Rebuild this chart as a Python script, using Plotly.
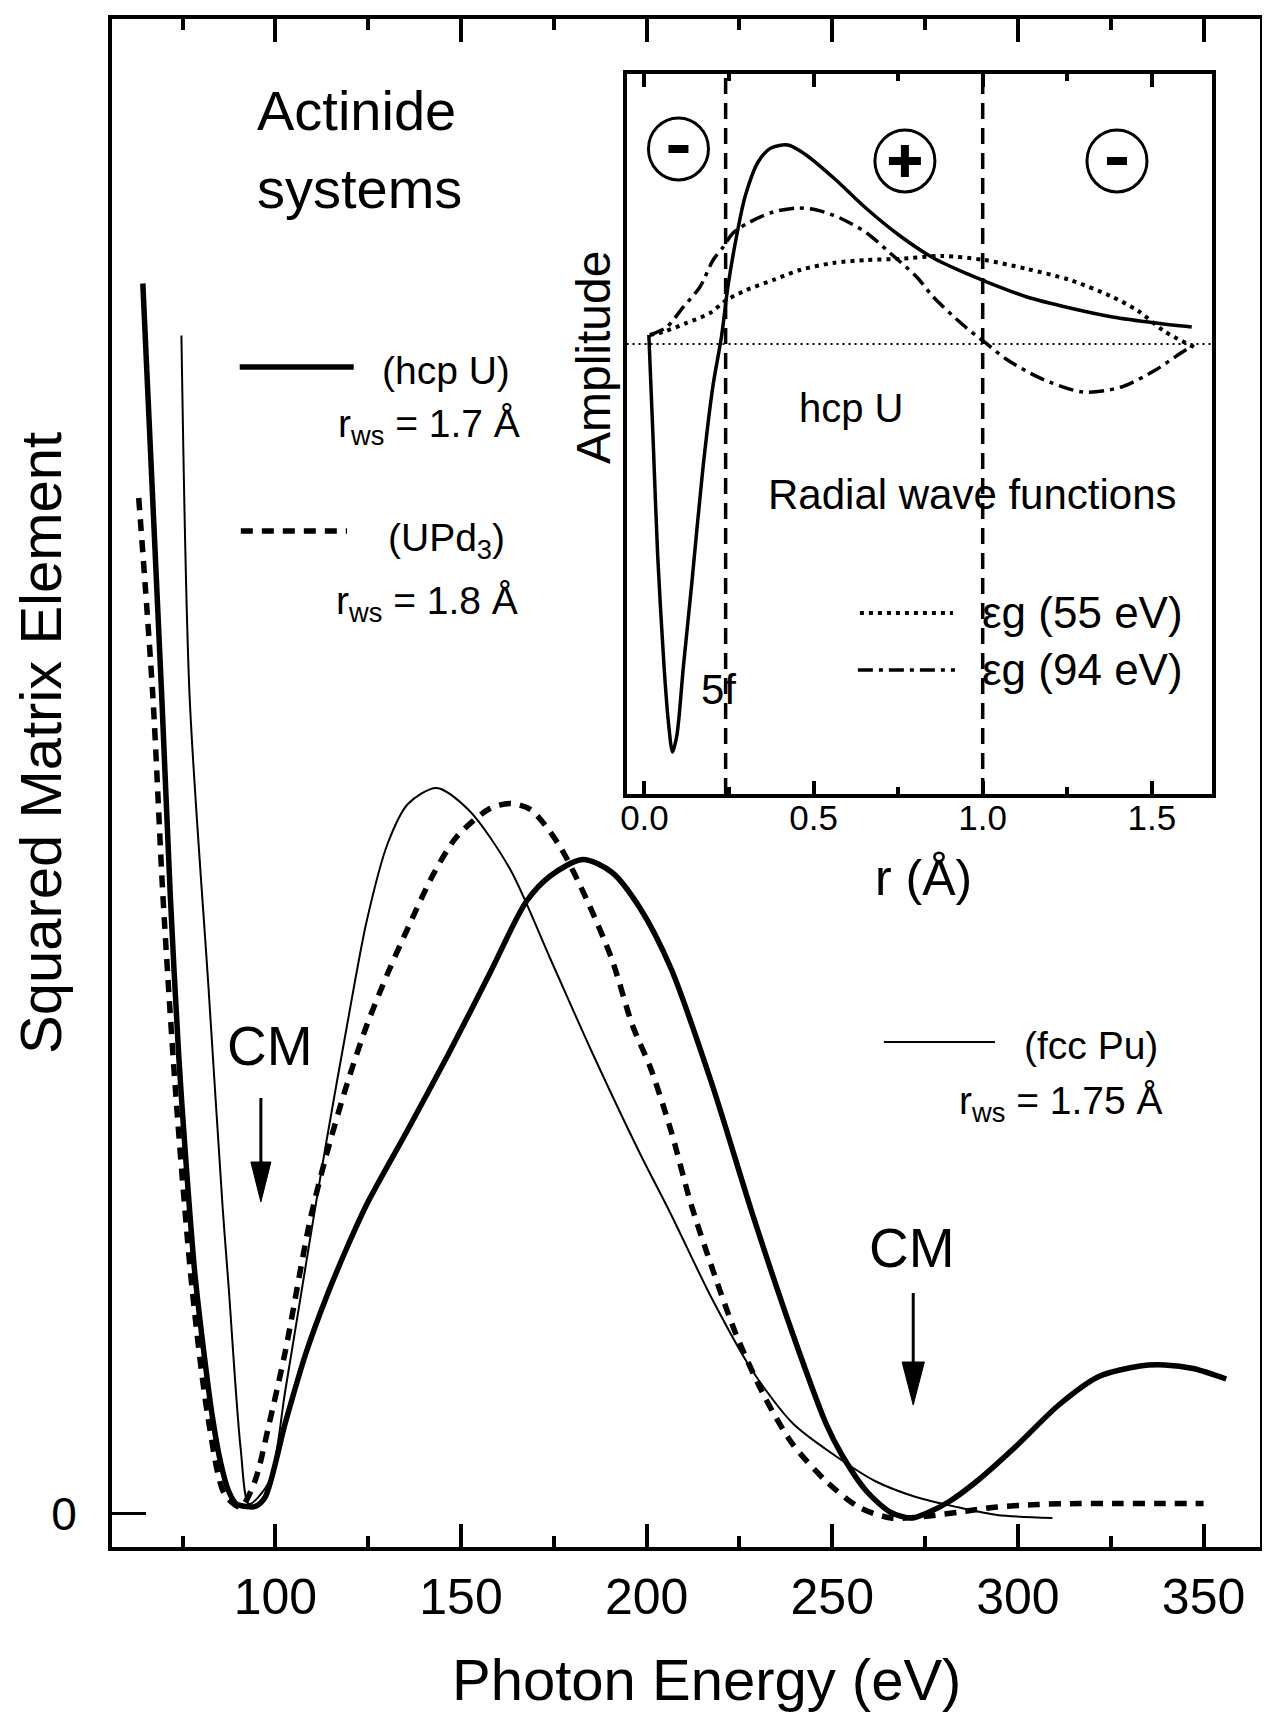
import plotly.graph_objects as go

# ---------------- main panel data (photon energy in eV, arbitrary units) -------------
hcpU_x = [64.3, 69.4, 71.7, 74.0, 75.8, 78.3, 80.7, 83.0, 85.2, 87.4, 89.5, 92.3, 94.5,
          97.2, 102.7, 108.2, 113.7, 119.3, 124.6, 135.7, 146.7, 157.8, 167.6, 174.2,
          182.8, 190.7, 198.2, 206.5, 217.5, 228.5, 239.4, 248.3, 252.6, 259.3, 265.8,
          271.4, 275.8, 281.3, 289.0, 300.0, 311.0, 321.8, 332.9, 339.5, 347.2, 356.1]
hcpU_y = [123.0, 81.7, 61.8, 45.6, 35.8, 24.05, 16.25, 9.75, 5.2, 2.25, 0.95, 0.7, 0.7,
          1.6, 9.1, 16.0, 21.6, 26.6, 30.9, 38.4, 46.0, 54.05, 61.2, 63.8,
          65.4, 64.1, 60.55, 54.55, 43.05, 29.95, 17.9, 9.0, 5.85, 2.2, 0.1,
          -0.45, 0.1, 1.15, 3.25, 6.9, 10.85, 13.7, 14.75, 14.85, 14.5, 13.45]

fccPu_x = [74.7, 76.9, 82.0, 85.8, 87.4, 90.65, 92.9, 98.4, 102.7, 109.3, 113.7,
           119.3, 124.6, 130.3, 135.7, 143.4, 152.2, 163.2, 174.2, 185.2, 198.2, 206.5,
           217.5, 228.5, 239.4, 250.5, 261.5, 272.5, 283.5, 294.4, 309.3]
fccPu_y = [117.8, 81.75, 52.55, 30.6, 22.75, 6.5, 0.95, 3.25, 12.35, 27.35, 37.1,
           48.8, 59.25, 67.05, 70.95, 72.55, 70.3, 64.45, 55.35, 46.2, 36.0, 29.95,
           21.55, 14.25, 9.0, 5.85, 3.25, 1.65, 0.65, -0.15, -0.45]

UPd3_x = [63.2, 67.0, 69.7, 73.1, 77.5, 81.8, 86.3, 90.65, 94.5, 98.4, 102.7, 109.3,
          113.7, 119.3, 124.6, 130.3, 135.7, 142.3, 148.9, 157.8, 163.2, 168.7, 176.4,
          184.1, 190.7, 196.2, 201.0, 206.5, 211.9, 217.5, 224.1, 231.8, 239.4, 248.3,
          257.1, 265.8, 274.7, 283.5, 294.4, 305.4, 316.5, 327.5, 338.4, 350.0]
UPd3_y = [101.55, 81.75, 61.85, 42.3, 22.75, 9.75, 1.95, 0.65, 3.25, 9.1, 16.25, 29.25,
          35.8, 42.95, 48.8, 54.05, 58.55, 63.75, 67.7, 70.5, 71.0, 70.4, 66.85,
          61.2, 55.35, 48.8, 44.6, 38.35, 31.0, 24.7, 17.9, 11.65, 6.9, 3.25,
          0.65, -0.45, -0.3, 0.1, 0.65, 0.9, 1.0, 1.0, 1.0, 1.0]

x_ticks = [100, 150, 200, 250, 300, 350]

# ---------------- inset data (r in Angstrom, amplitude arbitrary) --------------------
f5_r = [0.013, 0.026, 0.039, 0.058, 0.071, 0.083, 0.096, 0.115, 0.140, 0.172, 0.202,
        0.228, 0.247, 0.273, 0.298, 0.336, 0.374, 0.424, 0.474, 0.563, 0.651, 0.752,
        0.854, 0.955, 1.005, 1.131, 1.258, 1.384, 1.511, 1.618]
f5_a = [0.09, -0.99, -2.11, -3.23, -3.79, -4.08, -3.91, -3.23, -2.39, -1.27, -0.43,
        0.08, 0.58, 1.09, 1.48, 1.82, 1.96, 1.99, 1.90, 1.65, 1.37, 1.09,
        0.86, 0.70, 0.63, 0.47, 0.36, 0.27, 0.21, 0.17]

eg55_r = [0.016, 0.055, 0.125, 0.194, 0.243, 0.302, 0.381, 0.460, 0.558, 0.657, 0.752,
          0.879, 1.005, 1.131, 1.258, 1.384, 1.460, 1.536, 1.624]
eg55_a = [0.09, 0.12, 0.21, 0.31, 0.44, 0.54, 0.64, 0.74, 0.81, 0.84, 0.85,
          0.88, 0.84, 0.75, 0.64, 0.47, 0.33, 0.13, -0.03]

eg94_r = [0.016, 0.066, 0.115, 0.164, 0.203, 0.233, 0.262, 0.312, 0.381, 0.450, 0.509,
          0.578, 0.657, 0.726, 0.805, 0.854, 0.942, 1.005, 1.069, 1.169, 1.296, 1.410,
          1.511, 1.586, 1.624]
eg94_a = [0.09, 0.17, 0.37, 0.57, 0.84, 0.97, 1.11, 1.22, 1.32, 1.36, 1.34,
          1.26, 1.11, 0.91, 0.67, 0.47, 0.19, 0.02, -0.15, -0.34, -0.48, -0.43,
          -0.26, -0.09, -0.01]

inset_ticks = [0.0, 0.5, 1.0, 1.5]
r_5f = 0.24
r_ws_line = 1.0

FONT = "Liberation Sans, Arial, sans-serif"
K = "black"

fig = go.Figure()

# main curves
fig.add_trace(go.Scatter(x=hcpU_x, y=hcpU_y, mode="lines", name="hcp U",
                         line=dict(color=K, width=5.5, shape="spline", smoothing=0.8)))
fig.add_trace(go.Scatter(x=fccPu_x, y=fccPu_y, mode="lines", name="fcc Pu",
                         line=dict(color=K, width=2, shape="spline", smoothing=0.8)))
fig.add_trace(go.Scatter(x=UPd3_x, y=UPd3_y, mode="lines", name="UPd3",
                         line=dict(color=K, width=5.5, dash="12px,9px",
                                   shape="spline", smoothing=0.8)))

# inset curves
fig.add_trace(go.Scatter(x=f5_r, y=f5_a, mode="lines", xaxis="x2", yaxis="y2",
                         line=dict(color=K, width=3.5, shape="spline", smoothing=0.8)))
fig.add_trace(go.Scatter(x=eg55_r, y=eg55_a, mode="lines", xaxis="x2", yaxis="y2",
                         line=dict(color=K, width=4, dash="4px,5px",
                                   shape="spline", smoothing=0.8)))
fig.add_trace(go.Scatter(x=eg94_r, y=eg94_a, mode="lines", xaxis="x2", yaxis="y2",
                         line=dict(color=K, width=3.5, dash="15px,6px,4px,6px",
                                   shape="spline", smoothing=0.8)))

shapes = []
# inset reference lines
shapes.append(dict(type="line", xref="x2 domain", yref="y2", x0=0, x1=1, y0=0, y1=0,
                   line=dict(color=K, width=2, dash="2px,4px")))
for rv in (r_5f, r_ws_line):
    shapes.append(dict(type="line", xref="x2", yref="y2 domain", x0=rv, x1=rv, y0=0, y1=1,
                       line=dict(color=K, width=3.5, dash="16px,9px")))

# main legend samples
shapes.append(dict(type="line", xref="x", yref="y", x0=90.4, x1=121.1, y0=114.65, y1=114.65,
                   line=dict(color=K, width=5.5)))
shapes.append(dict(type="line", xref="x", yref="y", x0=90.7, x1=119.3, y0=98.25, y1=98.25,
                   line=dict(color=K, width=5.5, dash="12px,9px")))
shapes.append(dict(type="line", xref="x", yref="y", x0=263.9, x1=293.8, y0=47.15, y1=47.15,
                   line=dict(color=K, width=2)))
# inset legend samples
shapes.append(dict(type="line", xref="x2", yref="y2", x0=0.637, x1=0.912, y0=-2.69, y1=-2.69,
                   line=dict(color=K, width=4, dash="4px,5px")))
shapes.append(dict(type="line", xref="x2", yref="y2", x0=0.631, x1=0.918, y0=-3.26, y1=-3.26,
                   line=dict(color=K, width=3.5, dash="15px,6px,4px,6px")))

# circled signs in the inset
for (cr, ca, sign) in [(0.1005, 1.95, "-"), (0.770, 1.83, "+"), (1.397, 1.83, "-")]:
    shapes.append(dict(type="circle", xref="x2", yref="y2", xsizemode="pixel",
                       ysizemode="pixel", xanchor=cr, yanchor=ca, x0=-30, x1=30,
                       y0=-31, y1=31, line=dict(color=K, width=3)))
    half = 10 if sign == "-" else 16
    shapes.append(dict(type="line", xref="x2", yref="y2", xsizemode="pixel",
                       ysizemode="pixel", xanchor=cr, yanchor=ca, x0=-half, x1=half,
                       y0=0, y1=0, line=dict(color=K, width=8)))
    if sign == "+":
        shapes.append(dict(type="line", xref="x2", yref="y2", xsizemode="pixel",
                           ysizemode="pixel", xanchor=cr, yanchor=ca, x0=0, x1=0,
                           y0=-16, y1=16, line=dict(color=K, width=8)))

# CM arrows (data coordinates of the main panel)
for (ax_, y_top, y_head, y_tip, hw) in [(96.1, 41.55, 35.15, 31.15, 2.7),
                                        (271.8, 22.05, 15.15, 10.85, 3.0)]:
    shapes.append(dict(type="line", xref="x", yref="y", x0=ax_, x1=ax_, y0=y_top, y1=y_head,
                       line=dict(color=K, width=3)))
    shapes.append(dict(type="path", xref="x", yref="y",
                       path=f"M {ax_-hw},{y_head} L {ax_+hw},{y_head} L {ax_},{y_tip} Z",
                       fillcolor=K, line=dict(color=K, width=1)))

ann = []
def txt(x, y, s, size, xref="x", yref="y", xanchor="center", yanchor="middle",
        family=FONT, angle=0):
    ann.append(dict(x=x, y=y, xref=xref, yref=yref, text=s, showarrow=False,
                    xanchor=xanchor, yanchor=yanchor, textangle=angle,
                    font=dict(family=family, size=size, color=K)))

txt(94.5, 140.35, "Actinide", 56, xanchor="left")
txt(94.5, 132.55, "systems", 56, xanchor="left")
txt(128.2, 114.35, "(hcp U)", 39, xanchor="left")
txt(166.4, 108.75, "r<sub>ws</sub> = 1.7 Å", 39, xanchor="right")
txt(129.8, 97.35, "(UPd<sub>3</sub>)", 39, xanchor="left")
txt(165.8, 91.05, "r<sub>ws</sub> = 1.8 Å", 39, xanchor="right")
txt(301.1, 46.85, "(fcc Pu)", 39, xanchor="left")
txt(339.6, 41.05, "r<sub>ws</sub> = 1.75 Å", 39, xanchor="right")
txt(98.5, 46.75, "CM", 55)
txt(271.5, 26.55, "CM", 55)

# inset texts
txt(0.613, -0.64, "hcp U", 40, xref="x2", yref="y2")
txt(0.970, -1.51, "Radial wave functions", 42, xref="x2", yref="y2")
txt(0.992, -2.69, "εg (55 eV)", 44, xref="x2", yref="y2", xanchor="left")
txt(0.992, -3.26, "εg (94 eV)", 44, xref="x2", yref="y2", xanchor="left")
txt(0.220, -3.46, "5f", 42, xref="x2", yref="y2")

# axis titles (paper coordinates; plot area spans 112..1260 x 19..1547 px of the page)
txt((706 - 112) / 1148, (1547 - 1679) / 1528, "Photon Energy (eV)", 58,
    xref="paper", yref="paper")
txt((40 - 112) / 1148, (1547 - 743) / 1528, "Squared Matrix Element", 58,
    xref="paper", yref="paper", angle=-90)
txt((594 - 112) / 1148, (1547 - 358) / 1528, "Amplitude", 48,
    xref="paper", yref="paper", angle=-90)
txt((923 - 112) / 1148, (1547 - 878) / 1528, "r (Å)", 50, xref="paper", yref="paper")

# the page body has an 8 px margin, so the figure is 16 px smaller than the window
fig.update_layout(
    width=1254, height=1705, autosize=False,
    margin=dict(l=104, r=2, t=11, b=166),
    paper_bgcolor="white", plot_bgcolor="white",
    showlegend=False,
    font=dict(family=FONT, color=K),
    shapes=shapes, annotations=ann,
    xaxis=dict(range=[56, 365.2], domain=[0, 1], anchor="y", showline=True, linewidth=4,
               linecolor=K, mirror="ticks", ticks="inside", ticklen=23, tickwidth=4,
               tickcolor=K, tickvals=x_ticks, ticktext=[str(v) for v in x_ticks],
               tickfont=dict(size=50, family=FONT, color=K), showgrid=False,
               zeroline=False, ticklabelstandoff=3, automargin=False,
               minor=dict(ticks="inside", ticklen=11, tickwidth=4, tickcolor=K,
                          dtick=25, tick0=0, showgrid=False)),
    yaxis=dict(range=[-3.35, 149.45], domain=[0, 1], anchor="x", showline=True,
               linewidth=4, linecolor=K, mirror=True, ticks="inside", tickvals=[0],
               ticktext=["0"], ticklen=34, tickwidth=3, tickcolor=K,
               tickfont=dict(size=46, family=FONT, color=K), showgrid=False,
               zeroline=False, ticklabelstandoff=22, automargin=False),
    xaxis2=dict(range=[-0.053, 1.678], domain=[0.4482, 0.9582], anchor="y2",
                showline=True, linewidth=3.5, linecolor=K, mirror="ticks",
                ticks="inside", ticklen=13, tickwidth=3.5, tickcolor=K,
                tickvals=inset_ticks, ticktext=[f"{v:.1f}" for v in inset_ticks],
                tickfont=dict(size=35, family=FONT, color=K), showgrid=False,
                zeroline=False, ticklabelstandoff=-10, automargin=False,
                minor=dict(ticks="inside", ticklen=7, tickwidth=3.5, tickcolor=K,
                           dtick=0.25, tick0=0, showgrid=False)),
    yaxis2=dict(range=[-4.5, 2.695], domain=[0.4928, 0.9637], anchor="x2",
                showline=True, linewidth=3.5, linecolor=K, mirror=True, ticks="",
                showticklabels=False, showgrid=False, zeroline=False, automargin=False),
)

fig.write_html("out.html")
